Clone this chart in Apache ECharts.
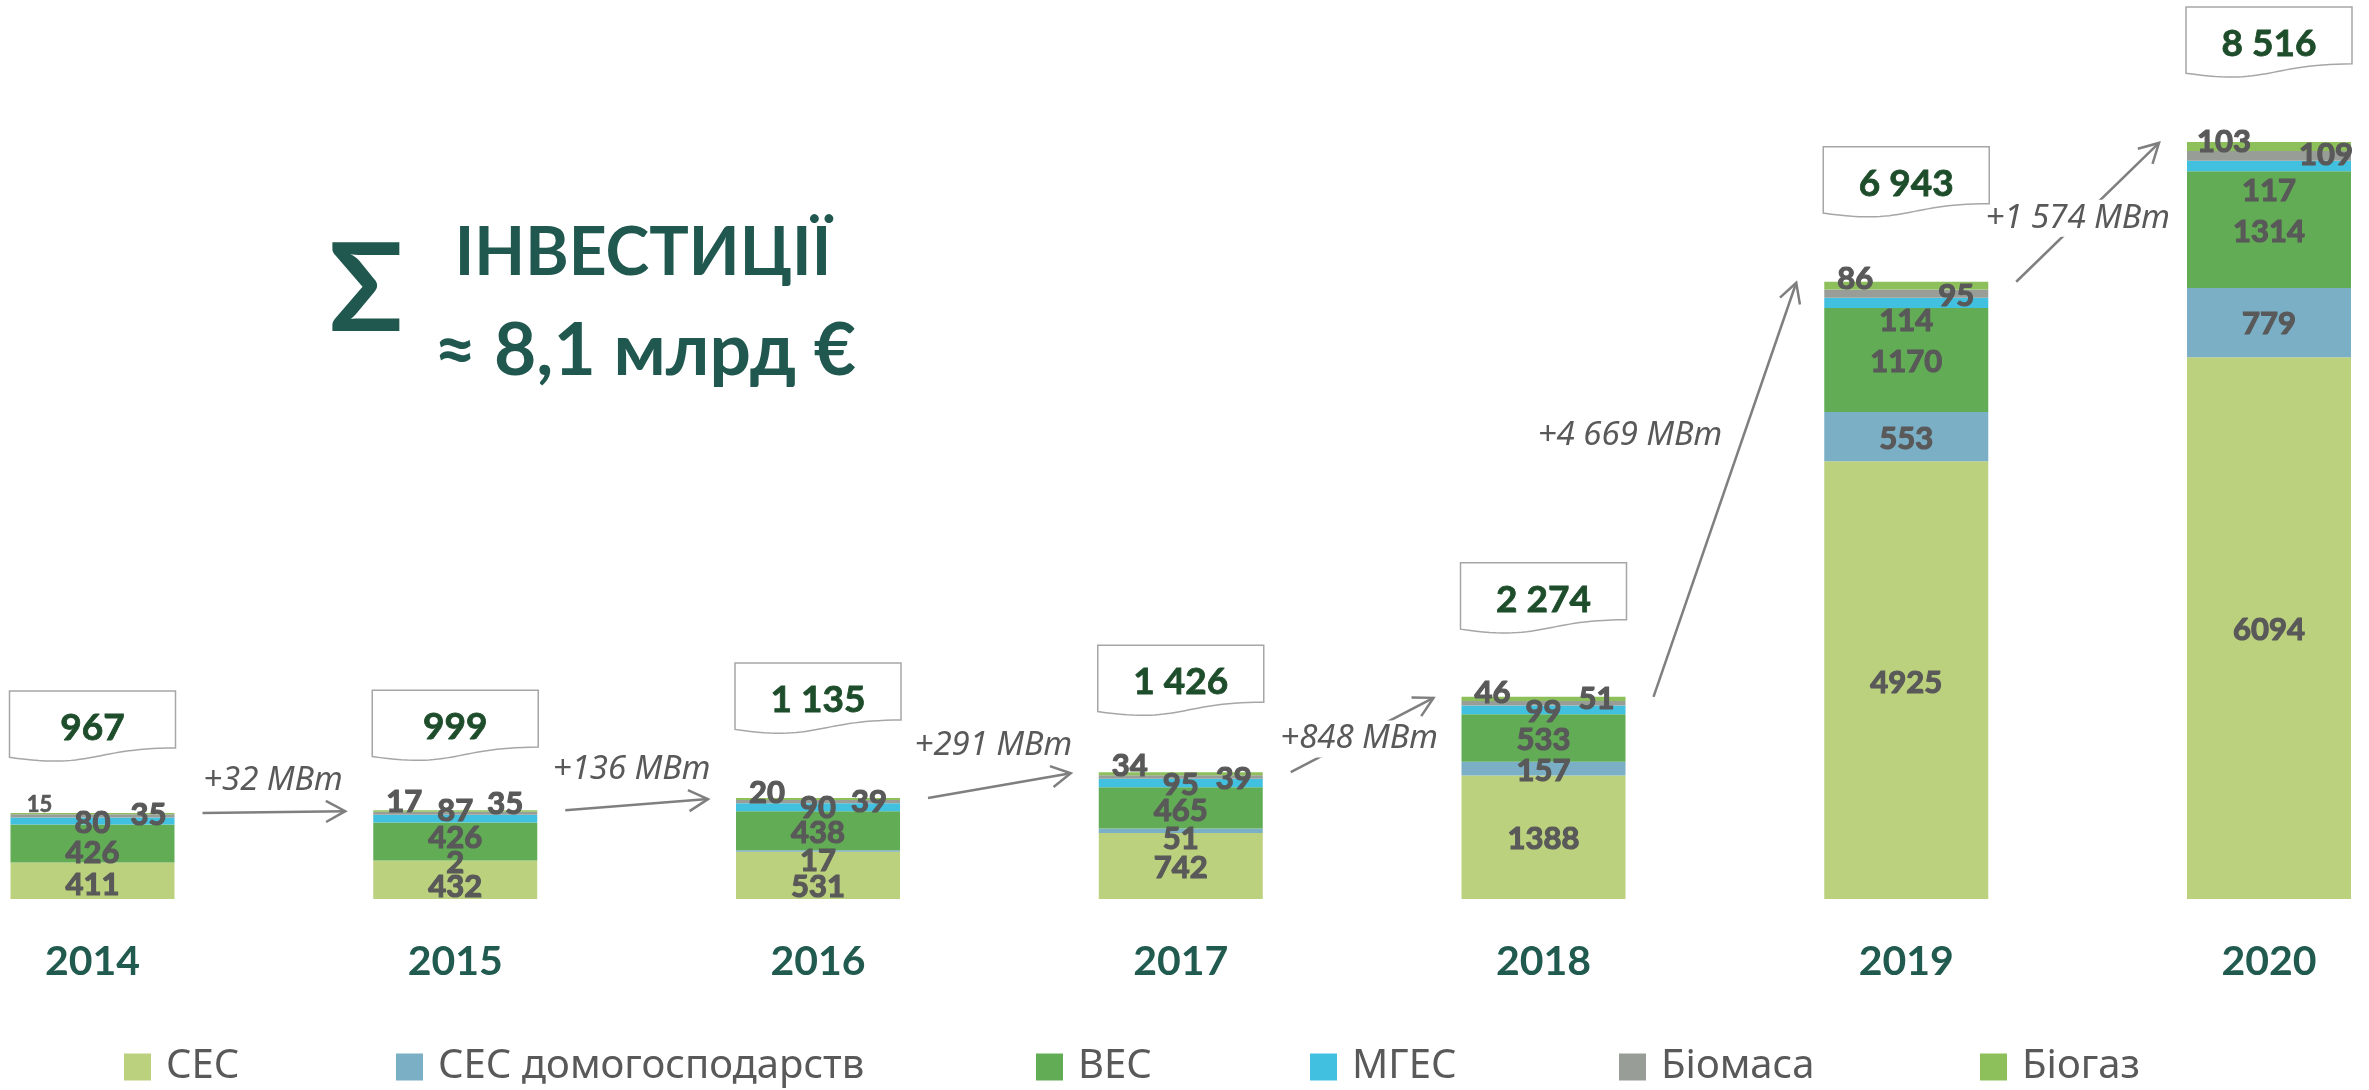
<!DOCTYPE html>
<html>
<head>
<meta charset="utf-8">
<script src="https://cdn.jsdelivr.net/npm/echarts@6/dist/echarts.min.js"></script>
<style>
html, body { margin: 0; padding: 0; background: #fff; }
#chart { width: 2369px; height: 1090px; }
</style>
</head>
<body>
<div id="chart"></div>
<script>
// values, МВт
const years = ['2014', '2015', '2016', '2017', '2018', '2019', '2020'];
const ses = [411, 432, 531, 742, 1388, 4925, 6094];
const sesHome = [0, 2, 17, 51, 157, 553, 779];
const wind = [426, 426, 438, 465, 533, 1170, 1314];
const hydro = [80, 87, 90, 95, 99, 114, 117];
const biomass = [35, 35, 39, 39, 51, 95, 109];
const biogas = [15, 17, 20, 34, 46, 86, 103];
const growth = ['+32 МВт', '+136 МВт', '+291 МВт', '+848 МВт', '+4 669 МВт', '+1 574 МВт'];

const totals = years.map((y, i) => ses[i] + sesHome[i] + wind[i] + hydro[i] + biomass[i] + biogas[i]);

const FONT = 'Lato, "Noto Sans", sans-serif';
const GRAY_TXT = '#595959';
const BAR_W = 164;

// label nudges (px) from the segment centre, like the hand-placed labels of the slide
const seriesDefs = [
    { name: 'СЕС', data: ses, color: '#BCD17E',
      nudge: [[0, 4], [0, 7], [0, 12], [0, 2], [0, 2], [0, 3], [0, 2]] },
    { name: 'СЕС домогосподарств', data: sesHome, color: '#7BAFC5',
      nudge: [[0, 0], [0, 2], [0, 10], [0, 8], [0, 2], [0, 2], [0, 1]] },
    { name: 'ВЕС', data: wind, color: '#62AC55',
      nudge: [[0, 9], [0, -3], [0, 2], [0, 3], [0, 2], [0, 2], [0, 2]] },
    { name: 'МГЕС', data: hydro, color: '#42C0E0',
      nudge: [[0, 2], [0, -8], [0, 1], [0, 2], [0, 2], [0, 18], [0, 25]] },
    { name: 'Біомаса', data: biomass, color: '#989E97',
      nudge: [[56, -1], [50, -9], [51, 0], [53, 2], [53, -4], [50, 2], [57, -1]] },
    { name: 'Біогаз', data: biogas, color: '#8DC05B',
      nudge: [[-53, -9], [-51, -9], [-51, -6], [-51, -8], [-51, -6], [-51, -7], [-45, -5]] },
];

const legendLeft = [124, 396, 1036, 1310, 1619, 1980];
const boxGap = [122, 120, 135, 127, 134, 135, 135];
const growthLabelShift = [[-1, -32], [-5, -35], [-6, -40], [-3, 4], [-95, -54], [-10, 6]];

function fmt(n) {
    return String(n).replace(/\B(?=(\d{3})+(?!\d))/g, ' ');
}

const barSeries = seriesDefs.map((d) => ({
    type: 'bar',
    name: d.name,
    stack: 'total',
    barWidth: BAR_W,
    clip: false,
    itemStyle: { color: d.color },
    label: {
        show: true,
        position: 'inside',
        color: GRAY_TXT,
        fontFamily: FONT,
        fontWeight: 'bold',
        fontSize: 31,
        textBorderColor: GRAY_TXT,
        textBorderWidth: 1.2,
    },
    data: d.data.map((v, i) => ({
        value: v,
        label: {
            show: v > 0,
            offset: d.nudge[i],
            fontSize: (d.name === 'Біогаз' && i === 0) ? 22 : 31,
            textBorderWidth: (d.name === 'Біогаз' && i === 0) ? 0.6 : 1.2,
        },
    })),
}));

// total boxes (document shape with wavy bottom)
const boxSeries = {
    type: 'custom',
    name: 'total',
    clip: false,
    silent: true,
    z: 5,
    data: totals.map((t, i) => [i, t]),
    renderItem(params, api) {
        const i = params.dataIndex;
        const p = api.coord([i, api.value(1)]);
        const w = BAR_W + 2, h = 71;
        const x0 = p[0] - w / 2, y0 = p[1] - boxGap[i];
        const pts = [[x0, y0], [x0 + w, y0], [x0 + w, y0 + 0.802 * h]];
        // bezier from right-bottom to left-bottom
        const P0 = [x0 + w, y0 + 0.802 * h], P1 = [x0 + w / 2, y0 + 0.802 * h];
        const P2 = [x0 + w / 2, y0 + 1.107 * h], P3 = [x0, y0 + 0.934 * h];
        for (let k = 1; k <= 30; k++) {
            const t = k / 30, u = 1 - t;
            pts.push([
                u * u * u * P0[0] + 3 * u * u * t * P1[0] + 3 * u * t * t * P2[0] + t * t * t * P3[0],
                u * u * u * P0[1] + 3 * u * u * t * P1[1] + 3 * u * t * t * P2[1] + t * t * t * P3[1],
            ]);
        }
        return {
            type: 'group',
            children: [
                { type: 'polygon', shape: { points: pts },
                  style: { fill: '#fff', stroke: '#A6A6A6', lineWidth: 1.5 } },
                { type: 'text',
                  style: { text: fmt(totals[i]), x: p[0], y: y0 + 0.52 * h,
                           align: 'center', verticalAlign: 'middle',
                           fill: '#1E4D2B', stroke: '#1E4D2B', lineWidth: 0.8,
                           font: 'bold 37px ' + FONT } },
            ],
        };
    },
};

// growth arrows between bars
const arrowSeries = {
    type: 'custom',
    name: 'growth',
    clip: false,
    silent: true,
    z: 4,
    data: growth.map((g, i) => [i, totals[i], totals[i + 1]]),
    renderItem(params, api) {
        const i = params.dataIndex;
        const a = api.coord([i, api.value(1)]);
        const b = api.coord([i + 1, api.value(2)]);
        const x1 = a[0] + BAR_W / 2 + 28, y1 = a[1];
        const x2 = b[0] - BAR_W / 2 - 28, y2 = b[1] + 1;
        const ang = Math.atan2(y2 - y1, x2 - x1);
        const L = 22, da = 0.5;
        const head = [
            [x2 - L * Math.cos(ang - da), y2 - L * Math.sin(ang - da)],
            [x2, y2],
            [x2 - L * Math.cos(ang + da), y2 - L * Math.sin(ang + da)],
        ];
        const mx = (x1 + x2) / 2 + growthLabelShift[i][0];
        const my = (y1 + y2) / 2 + growthLabelShift[i][1];
        const lineStyle = { stroke: '#7F7F7F', lineWidth: 2.5, fill: null };
        return {
            type: 'group',
            children: [
                { type: 'line', shape: { x1, y1, x2, y2 }, style: lineStyle },
                { type: 'polyline', shape: { points: head }, style: lineStyle },
                { type: 'text',
                  style: { text: growth[i], x: mx, y: my, align: 'center', verticalAlign: 'middle',
                           fill: GRAY_TXT, font: 'italic 33px "Noto Sans", sans-serif',
                           backgroundColor: '#fff', padding: [2, 4] } },
            ],
        };
    },
};

const chart = echarts.init(document.getElementById('chart'));
chart.setOption({
    backgroundColor: '#fff',
    animation: false,
    grid: { left: 92.5, right: 100, top: 10, bottom: 191 },
    xAxis: {
        type: 'category',
        data: years,
        boundaryGap: false,
        axisLine: { show: false },
        axisTick: { show: false },
        axisLabel: {
            margin: 42,
            color: '#215A4F',
            fontFamily: FONT,
            fontWeight: 'bold',
            fontSize: 41,
        },
    },
    yAxis: {
        type: 'value',
        min: 0,
        max: 10000,
        show: false,
        splitLine: { show: false },
    },
    legend: seriesDefs.map((d, i) => ({
        data: [d.name],
        left: legendLeft[i],
        top: 1047,
        icon: 'rect',
        itemWidth: 27,
        itemHeight: 27,
        padding: 0,
        selectedMode: false,
        textStyle: {
            fontFamily: '"Noto Sans", sans-serif',
            fontSize: 40,
            lineHeight: 40,
            color: GRAY_TXT,
            padding: [0, 0, 0, 10],
        },
    })),
    graphic: [
        { type: 'text', x: 366, y: 292,
          style: { text: 'Σ', font: 'bold 122px ' + FONT, fill: '#20584F', align: 'center', verticalAlign: 'middle' } },
        { type: 'text', x: 643, y: 254,
          style: { text: 'ІНВЕСТИЦІЇ', font: 'bold 66px ' + FONT, fill: '#20584F', align: 'center', verticalAlign: 'middle' } },
        { type: 'text', x: 645, y: 351,
          style: { text: '≈ 8,1 млрд €', font: 'bold 73px ' + FONT, fill: '#20584F', align: 'center', verticalAlign: 'middle' } },
    ],
    series: [...barSeries, arrowSeries, boxSeries],
});
</script>
</body>
</html>
